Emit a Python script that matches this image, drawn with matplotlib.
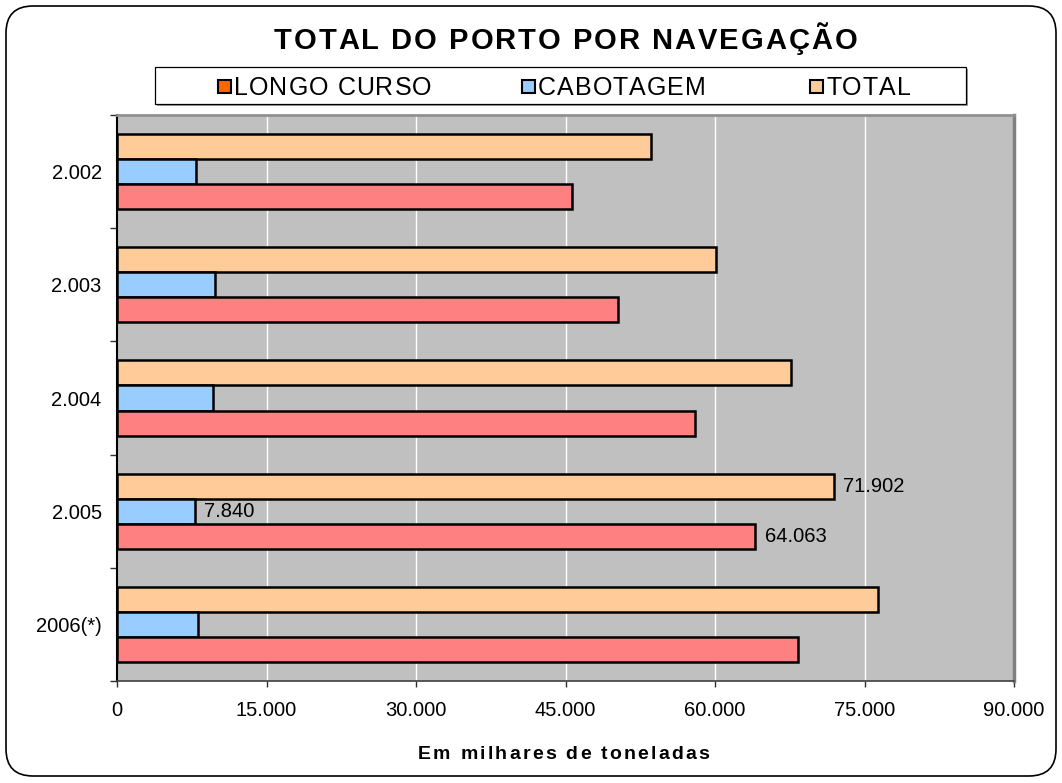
import matplotlib
matplotlib.use('Agg')
import matplotlib.pyplot as plt
import numpy as np
from matplotlib import font_manager
from matplotlib.ft2font import FT2Font
from matplotlib.patches import Rectangle, FancyBboxPatch

# Movimentação por ano (milhares de toneladas)
anos = ['2.002', '2.003', '2.004', '2.005', '2006(*)']
longo_curso = [45650, 50300, 58000, 64063, 68300]
cabotagem = [7900, 9850, 9650, 7840, 8100]
total = [53550, 60150, 67650, 71902, 76400]
rotulados = [3]  # ano com valores escritos nas barras

series = ['LONGO CURSO', 'CABOTAGEM', 'TOTAL']
cores = ['#FF8080', '#99CCFF', '#FFCC99']
cores_legenda = ['#FF6600', '#99CCFF', '#FFCC99']

W, H = 1062, 783
plt.rcParams['font.family'] = ['Liberation Sans', 'DejaVu Sans']

fig = plt.figure(figsize=(W / 100, H / 100), dpi=100)
ax = fig.add_axes([117 / W, 1 - 681 / H, (1014 - 117) / W, (681 - 115) / H])


def fmt(v):
    return f'{v:,}'.replace(',', '.')


def texto_espacado(x0, base_y, s, size, weight, track, align='center'):
    # escreve letra por letra, com espaço extra (px) entre elas
    prop = font_manager.FontProperties(family='Liberation Sans', weight=weight, size=size)
    font = FT2Font(font_manager.findfont(prop))
    font.set_size(size, fig.dpi)
    adv = [font.load_char(ord(c)).linearHoriAdvance / 65536 for c in s]
    largura = sum(adv) + track * (len(s) - 1)
    x = x0 - largura / 2 if align == 'center' else x0
    for c, a in zip(s, adv):
        if c != ' ':
            fig.text((x + a / 2) / W, 1 - base_y / H, c, fontproperties=prop,
                     ha='center', va='baseline', color='black', zorder=6)
        x += a + track


# moldura arredondada do gráfico
fig.patches.append(FancyBboxPatch((6 / 100, (H - 776) / 100), 1050 / 100, 770 / 100,
                                  boxstyle='round,pad=0,rounding_size=0.27',
                                  transform=fig.dpi_scale_trans, facecolor='white',
                                  edgecolor='black', linewidth=1.2, zorder=-10))

y = np.arange(len(anos))
h = 0.222
b_total = ax.barh(y - h, total, height=h, color=cores[2], edgecolor='black', linewidth=1.8, zorder=3)
b_cab = ax.barh(y, cabotagem, height=h, color=cores[1], edgecolor='black', linewidth=1.8, zorder=3)
b_longo = ax.barh(y + h, longo_curso, height=h, color=cores[0], edgecolor='black', linewidth=1.8, zorder=3)

for i in rotulados:
    for bars, vals in ((b_total, total), (b_cab, cabotagem), (b_longo, longo_curso)):
        ax.annotate(fmt(vals[i]), (vals[i], bars[i].get_y() + h / 2),
                    xytext=(6.5, 0), textcoords='offset points',
                    ha='left', va='center', fontsize=14.5, zorder=4)

ax.set_facecolor('#C0C0C0')
ax.set_xlim(0, 90000)
ax.set_ylim(len(anos) - 0.5, -0.5)

xt = np.arange(0, 90001, 15000)
ax.set_xticks(xt)
ax.set_xticklabels([fmt(v) for v in xt], fontsize=14.5)
ax.tick_params(axis='x', direction='out', length=4.5, width=1, color='#303030', pad=10)
for v in xt[1:-1]:
    ax.axvline(v, color='white', linewidth=1, zorder=1)

ax.set_yticks(y)
ax.set_yticklabels(anos, fontsize=14.5)
ax.tick_params(axis='y', which='major', length=0, pad=11)
ax.set_yticks(np.arange(-0.5, len(anos)), minor=True)
ax.tick_params(axis='y', which='minor', direction='out', length=5, width=1, color='#303030')

ax.spines['left'].set_color('black')
ax.spines['left'].set_linewidth(1.5)
ax.spines['bottom'].set_color('#404040')
ax.spines['bottom'].set_linewidth(1.2)
ax.spines['top'].set_color('#909090')
ax.spines['top'].set_linewidth(2)
ax.spines['right'].set_color('#808080')
ax.spines['right'].set_linewidth(2.5)

# título e rótulo do eixo
texto_espacado(565.5, 49, 'TOTAL DO PORTO POR NAVEGAÇÃO', 21, 'bold', 2.0)
texto_espacado(563.5, 759, 'Em milhares de toneladas', 14, 'bold', 2.2)

# caixa da legenda com sombra
fig.patches.append(Rectangle(((155 + 2) / W, 1 - (104 + 2) / H), 811 / W, 37 / H,
                             transform=fig.transFigure, facecolor='#A0A0A0',
                             edgecolor='none', zorder=1))
fig.patches.append(Rectangle((155 / W, 1 - 104 / H), 811 / W, 37 / H,
                             transform=fig.transFigure, facecolor='white',
                             edgecolor='black', linewidth=0.9, zorder=2))

# itens da legenda: quadradinho + texto
pos_legenda = [218, 522, 810]
for nome, cor, x0 in zip(series, cores_legenda, pos_legenda):
    fig.patches.append(Rectangle((x0 / W, 1 - 93 / H), 13 / W, 13 / H,
                                 transform=fig.transFigure, facecolor=cor,
                                 edgecolor='black', linewidth=1.5, zorder=3))
    texto_espacado(x0 + 16, 95, nome, 18, 'normal', 1.0, align='left')

fig.savefig('out.png', dpi=100, facecolor='white')
